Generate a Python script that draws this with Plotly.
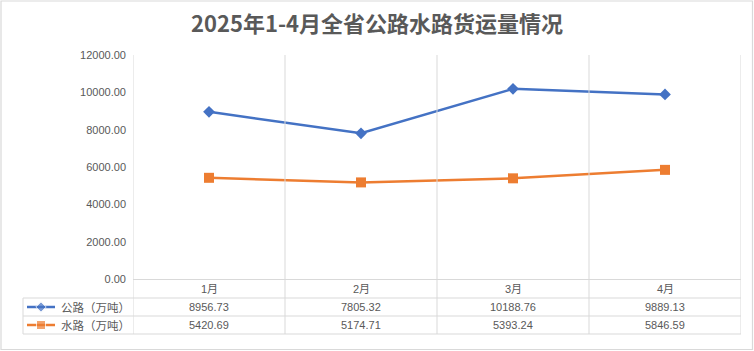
import plotly.graph_objects as go

W, H = 754, 351

categories = ["1月", "2月", "3月", "4月"]
series_names = ["公路（万吨）", "水路（万吨）"]
road = [8956.73, 7805.32, 10188.76, 9889.13]
water = [5420.69, 5174.71, 5393.24, 5846.59]
y_ticks = [0, 2000, 4000, 6000, 8000, 10000, 12000]
title = "2025年1-4月全省公路水路货运量情况"

colors = ["#4472C4", "#ED7D31"]
symbols = ["diamond", "square"]
msizes = [9, 10]
series = [road, water]

GRID = "#D9D9D9"
TXT = "#595959"
FONT = "Liberation Sans, Noto Sans CJK SC, sans-serif"

def px(x):
    return x / W

def py(y):
    return 1 - y / H

plot_l, plot_r = 133, 741
plot_t, plot_b = 55, 279
table_l = 23
row_lines = [298, 316, 334]
header_y = 289
row_y = [307, 325]

fig = go.Figure()

for name, vals, c, s, ms in zip(series_names, series, colors, symbols, msizes):
    fig.add_trace(go.Scatter(
        x=categories, y=vals, name=name, mode="lines+markers",
        line=dict(color=c, width=2.5),
        marker=dict(symbol=s, size=ms, color=c),
        showlegend=False, xaxis="x", yaxis="y",
    ))

# legend keys in the table's label column
for i, (c, s, ms) in enumerate(zip(colors, symbols, msizes)):
    fig.add_trace(go.Scatter(
        x=[0, 0.5, 1], y=[i + 0.5] * 3, mode="lines+markers",
        line=dict(color=c, width=2.5),
        marker=dict(symbol=s, size=[0, ms - 1, 0], color=c),
        showlegend=False, xaxis="x2", yaxis="y2", hoverinfo="skip",
    ))

shapes = []
# vertical gridlines at category boundaries, extending through the data table
for i in range(len(categories) + 1):
    shapes.append(dict(type="line", xref="x", yref="paper",
                       x0=i - 0.5, x1=i - 0.5, y0=py(row_lines[-1]), y1=py(plot_t),
                       line=dict(color=GRID, width=1)))
# horizontal table lines
for yl in row_lines:
    shapes.append(dict(type="line", xref="paper", yref="paper",
                       x0=px(table_l), x1=px(plot_r), y0=py(yl), y1=py(yl),
                       line=dict(color=GRID, width=1)))
# left table edge
shapes.append(dict(type="line", xref="paper", yref="paper",
                   x0=px(table_l), x1=px(table_l), y0=py(row_lines[-1]), y1=py(row_lines[0]),
                   line=dict(color=GRID, width=1)))
# outer chart border
shapes.append(dict(type="rect", xref="paper", yref="paper",
                   x0=px(1), x1=px(752.5), y0=py(349.5), y1=py(1),
                   line=dict(color=GRID, width=1.2)))

annotations = []
for cat in categories:
    annotations.append(dict(x=cat, xref="x", y=py(header_y), yref="paper",
                            text=cat, showarrow=False, xanchor="center", yanchor="middle",
                            font=dict(size=11, color=TXT, family=FONT)))
for vals, ry in zip(series, row_y):
    for cat, v in zip(categories, vals):
        annotations.append(dict(x=cat, xref="x", y=py(ry), yref="paper",
                                text=f"{v:.2f}", showarrow=False, xanchor="center", yanchor="middle",
                                font=dict(size=11, color=TXT, family=FONT)))
for name, ry in zip(series_names, row_y):
    annotations.append(dict(x=px(59), xref="paper", y=py(ry), yref="paper",
                            text=name, showarrow=False, xanchor="left", yanchor="middle",
                            font=dict(size=11.5, color=TXT, family="Noto Sans CJK SC")))

fig.update_layout(
    width=W, height=H,
    margin=dict(l=0, r=0, t=0, b=0, pad=0, autoexpand=False),
    paper_bgcolor="white", plot_bgcolor="white",
    title=dict(text=title, x=0.5, xanchor="center", y=py(24), yanchor="middle", automargin=False,
               font=dict(size=22, color=TXT, family="Noto Sans CJK SC", weight="bold")),
    xaxis=dict(domain=[px(plot_l), px(plot_r)], type="category", range=[-0.5, len(categories) - 0.5],
               showgrid=False, showline=True, linecolor=GRID, linewidth=1, automargin=False,
               showticklabels=False, ticks="", zeroline=False, fixedrange=True),
    yaxis=dict(domain=[py(plot_b), py(plot_t)], range=[y_ticks[0], y_ticks[-1]], automargin=False,
               tickvals=y_ticks, tickformat=".2f", showgrid=False, showline=False,
               zeroline=False, ticks="", ticklabelstandoff=6,
               tickfont=dict(size=11, color=TXT, family=FONT)),
    xaxis2=dict(domain=[px(27), px(55)], range=[0, 1], visible=False, fixedrange=True, automargin=False),
    yaxis2=dict(domain=[py(row_lines[-1]), py(row_lines[0])], range=[2, 0], visible=False, automargin=False),
    shapes=shapes,
    annotations=annotations,
    hovermode=False,
)

fig.write_html("out.html")
